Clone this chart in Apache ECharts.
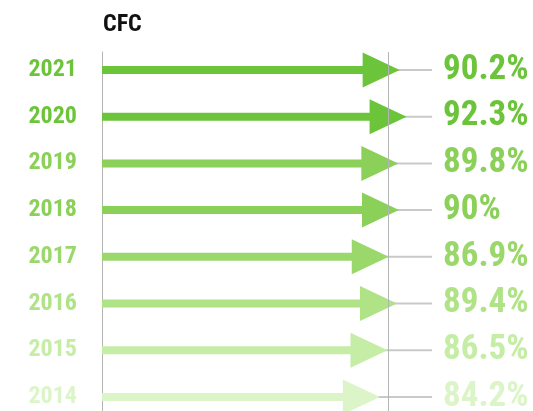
<!DOCTYPE html>
<html>
<head>
<meta charset="utf-8">
<script src="https://cdn.jsdelivr.net/npm/echarts@6/dist/echarts.min.js"></script>
<style>
  html, body { margin: 0; padding: 0; background: #fff; }
  #chart { width: 533px; height: 411px; }
</style>
</head>
<body>
<div id="chart"></div>
<script>
// rows top to bottom
const years = ['2021', '2020', '2019', '2018', '2017', '2016', '2015', '2014']
const values = [90.2, 92.3, 89.8, 90, 86.9, 89.4, 86.5, 84.2]
const colors = ['#6cc43a', '#6cc43a', '#8bd058', '#8bd058', '#9bd86b', '#afe386', '#c5eda5', '#dcf5c8']
const refValue = 86.8

const FONT = '"Roboto Condensed", "Liberation Sans Narrow", "Liberation Sans", sans-serif'

const chart = echarts.init(document.getElementById('chart'), null, { renderer: 'canvas' })

function renderArrow(params, api) {
  const idx = api.value(1)
  const v = api.value(0)
  const p0 = api.coord([0, idx])
  const p1 = api.coord([v, idx])
  const headLen = 37
  const headHalf = 17.5
  const shaftHalf = 4
  const x0 = p0[0], y = p0[1], tip = p1[0]
  const hx = tip - headLen
  return {
    type: 'polygon',
    shape: {
      points: [
        [x0, y - shaftHalf], [hx, y - shaftHalf], [hx, y - headHalf],
        [tip, y], [hx, y + headHalf], [hx, y + shaftHalf], [x0, y + shaftHalf]
      ]
    },
    style: { fill: api.visual('color') }
  }
}

chart.setOption({
  backgroundColor: '#fff',
  animation: false,
  title: {
    text: 'CFC',
    left: 103,
    top: 13,
    padding: 0,
    textStyle: { fontFamily: FONT, fontSize: 24, fontWeight: 'bold', color: '#111' }
  },
  grid: [
    { left: 102, right: 101, top: 46.6, bottom: -9.3, outerBoundsMode: 'none' },
    { left: 102, right: 101, top: 52, bottom: 0, outerBoundsMode: 'none' }
  ],
  xAxis: [
    { gridIndex: 0, type: 'value', min: 0, max: 100, show: false },
    { gridIndex: 1, type: 'value', min: 0, max: 100, show: false }
  ],
  yAxis: [
    {
      gridIndex: 0,
      type: 'category',
      inverse: true,
      data: years,
      axisLine: { show: false },
      axisTick: { show: false },
      axisLabel: {
        margin: 25,
        fontFamily: FONT,
        fontSize: 24,
        fontWeight: 'bold',
        padding: [0, 0, 12, 0],
        color: (val, i) => colors[i]
      }
    },
    {
      gridIndex: 0,
      type: 'category',
      inverse: true,
      position: 'right',
      data: values.map((v) => v + '%'),
      axisLine: { show: false },
      axisTick: { show: false },
      axisLabel: {
        margin: 11,
        fontFamily: FONT,
        fontSize: 35,
        fontWeight: 'bold',
        padding: [2, 0, 0, 0],
        color: (val, i) => colors[i]
      }
    },
    {
      gridIndex: 1,
      type: 'value',
      min: 0,
      max: 1,
      axisLine: { show: true, lineStyle: { color: '#b4b4b4', width: 1 } },
      axisTick: { show: false },
      axisLabel: { show: false },
      splitLine: { show: false }
    }
  ],
  series: [
    {
      name: 'track',
      type: 'bar',
      xAxisIndex: 0,
      yAxisIndex: 0,
      data: years.map(() => 100),
      barWidth: 2,
      itemStyle: { color: '#c9c9c9' },
      silent: true,
      z: 1
    },
    {
      name: 'ref',
      type: 'line',
      xAxisIndex: 1,
      yAxisIndex: 2,
      data: [],
      z: 1,
      markLine: {
        silent: true,
        symbol: 'none',
        label: { show: false },
        lineStyle: { color: '#b4b4b4', width: 1, type: 'solid' },
        data: [{ xAxis: refValue }]
      }
    },
    {
      name: 'CFC',
      type: 'custom',
      xAxisIndex: 0,
      yAxisIndex: 0,
      renderItem: renderArrow,
      encode: { x: 0, y: 1 },
      data: values.map((v, i) => ({ value: [v, i], itemStyle: { color: colors[i] } })),
      z: 3
    }
  ]
})
</script>
</body>
</html>
